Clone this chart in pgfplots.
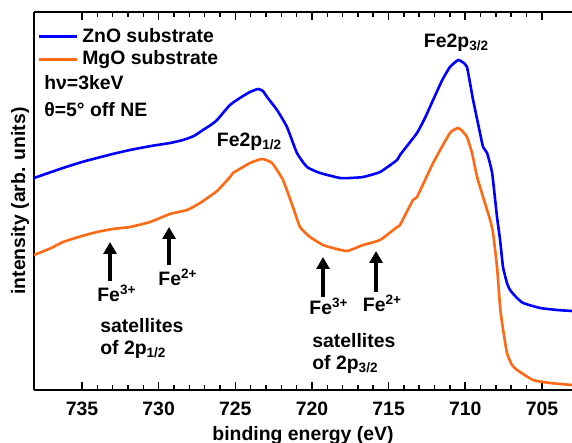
\documentclass[border=0pt]{standalone}
\usepackage{pgfplots}
\pgfplotsset{compat=1.18}
\usepackage{fontspec}
\setmainfont{Liberation Sans}
\usetikzlibrary{arrows.meta}
\definecolor{myblue}{RGB}{0,0,255}
\definecolor{myorange}{RGB}{255,105,20}
\newcommand{\myfont}{\fontsize{9.7}{11}\selectfont\bfseries}
\begin{document}
\begin{tikzpicture}
\useasboundingbox (-17pt,-26.5pt) rectangle (269pt,195pt);
\begin{axis}[
  scale only axis,
  width=269pt, height=189pt,
  x dir=reverse,
  xmin=703.04, xmax=738.13,
  ymin=-1, ymax=377,
  axis x line=box, axis y line=left,
  axis line style={-, line width=1pt},
  ytick=\empty,
  xtick={705,710,...,735},
  minor x tick num=4,
  tick align=inside,
  major tick length=4pt, minor tick length=2.5pt,
  every tick/.style={black, line width=0.8pt},
  /pgf/number format/assume math mode=true,
  /pgf/number format/set thousands separator={},
  xticklabel style={font=\myfont, yshift=-2.5pt},
  xlabel={binding energy (eV)},
  xlabel style={font=\myfont, at={(rel axis cs:0.5,-0.121)}, anchor=center},
  ylabel={intensity (arb. units)},
  ylabel style={font=\myfont, at={(rel axis cs:-0.026,0.5)}, anchor=center},
  legend cell align=left,
  legend style={at={(rel axis cs:-0.005,0.971)}, anchor=north west, draw=none, fill=none,
    font=\myfont, inner xsep=3pt, inner ysep=1pt, row sep=0pt,
    nodes={inner xsep=2pt, inner ysep=1.4pt}},
  legend image code/.code={\draw[#1] (0pt,0pt) -- (19pt,0pt);},
]
\addplot[myblue, line width=1.3pt, smooth, tension=0.3] coordinates {
(738.13,211) (737.0,217) (736.24,221) (735.0,227) (734.02,231) (733.0,235)
(731.87,239) (730.5,243) (729.26,246) (728.41,249) (727.7,253) (727.11,259)
(726.6,264) (726.19,269) (725.35,284) (724.6,292) (724.04,297) (723.52,300)
(723.2,298) (722.93,292) (722.28,279) (721.63,262) (720.98,236) (720.32,222)
(719.47,216) (718.17,211) (717.52,211) (716.67,212) (715.56,217) (714.45,229)
(714.26,234) (713.15,256) (712.6,272) (712.10,289) (711.5,309) (711.00,322)
(710.47,329) (710.2,327) (709.89,322) (709.49,289) (709.04,256) (708.84,242)
(708.58,236) (708.25,216) (707.93,172) (707.73,149) (707.54,122) (707.28,106)
(707.08,99) (706.69,92) (706.23,86) (705.12,81) (704.0,79) (703.04,78)
};
\addlegendentry{ZnO substrate}
\addplot[myorange, line width=1.3pt, smooth, tension=0.3] coordinates {
(738.13,134) (737.0,141) (736.24,147) (735.0,153) (734.02,157) (733.0,160)
(731.87,162) (730.56,167) (729.26,175) (728.15,179) (727.30,186) (726.19,198)
(725.35,212) (725.15,216) (724.04,226) (723.26,230) (722.61,226) (721.89,209)
(721.24,182) (720.78,162) (720.13,152) (719.28,144) (718.63,141) (717.71,138)
(716.67,144) (715.56,149) (714.45,162) (714.26,164) (713.41,189) (713.15,192)
(712.10,226) (711.00,256) (710.47,261) (710.2,258) (709.89,252) (709.56,236)
(709.23,212) (708.84,192) (708.38,169) (708.19,156) (707.93,122) (707.73,82)
(707.60,66) (707.28,36) (706.95,24) (706.62,19) (705.58,9) (704.47,6) (703.04,4)
};
\addlegendentry{MgO substrate}
\node[font=\myfont, anchor=west, inner sep=0pt] at (axis cs:737.48,306) {hν=3keV};
\node[font=\myfont, anchor=west, inner sep=0pt] at (axis cs:737.48,279) {θ=5° off NE};
\node[font=\myfont, inner sep=0pt] at (axis cs:724.07,247) {Fe2p\textsubscript{1/2}};
\node[font=\myfont, inner sep=0pt] at (axis cs:710.57,346) {Fe2p\textsubscript{3/2}};
\draw[-{Triangle[width=6.5pt,length=6pt]}, line width=1.6pt] (axis cs:733.17,108) -- (axis cs:733.17,147);
\draw[-{Triangle[width=6.5pt,length=6pt]}, line width=1.6pt] (axis cs:729.32,124) -- (axis cs:729.32,162);
\draw[-{Triangle[width=6.5pt,length=6pt]}, line width=1.6pt] (axis cs:719.28,92) -- (axis cs:719.28,132);
\draw[-{Triangle[width=6.5pt,length=6pt]}, line width=1.6pt] (axis cs:715.82,97) -- (axis cs:715.82,138);
\node[font=\myfont, inner sep=0pt] at (axis cs:732.72,96) {Fe\textsuperscript{3+}};
\node[font=\myfont, inner sep=0pt] at (axis cs:728.74,112) {Fe\textsuperscript{2+}};
\node[font=\myfont, inner sep=0pt] at (axis cs:718.89,83) {Fe\textsuperscript{3+}};
\node[font=\myfont, inner sep=0pt] at (axis cs:715.40,86) {Fe\textsuperscript{2+}};
\node[font=\myfont, anchor=north west, inner sep=0pt, align=left] at (axis cs:733.83,71) {satellites\\of 2p\textsubscript{1/2}};
\node[font=\myfont, anchor=north west, inner sep=0pt, align=left] at (axis cs:720.0,56) {satellites\\of 2p\textsubscript{3/2}};
\end{axis}
\end{tikzpicture}
\end{document}
